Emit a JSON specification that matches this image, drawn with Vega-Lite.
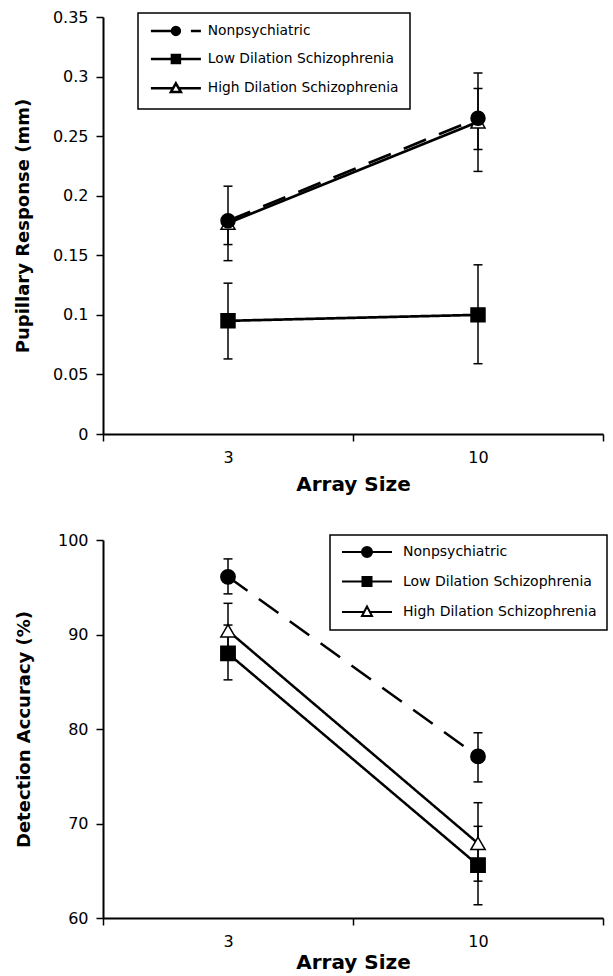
{
  "$schema": "https://vega.github.io/schema/vega-lite/v6.json",
  "background": "white",
  "padding": {"left": 14, "top": 9, "right": 5, "bottom": 5},
  "config": {
    "view": {"stroke": null},
    "font": "DejaVu Sans",
    "axis": {
      "domainColor": "black", "domainWidth": 2, "tickColor": "black", "tickWidth": 1.5, "tickSize": 7,
      "labelFont": "DejaVu Sans", "labelFontSize": 16, "labelColor": "black", "labelPadding": 8,
      "titleFont": "DejaVu Sans", "titleFontWeight": "bold", "titleColor": "black", "grid": false
    }
  },
  "datasets": {
    "pupil": [
      {"group": "High Dilation Schizophrenia", "size": "3", "value": 0.177, "lo": 0.159, "hi": 0.18},
      {"group": "High Dilation Schizophrenia", "size": "10", "value": 0.262, "lo": 0.2388, "hi": 0.29},
      {"group": "Low Dilation Schizophrenia", "size": "3", "value": 0.095, "lo": 0.063, "hi": 0.1266},
      {"group": "Low Dilation Schizophrenia", "size": "10", "value": 0.1, "lo": 0.059, "hi": 0.142},
      {"group": "Nonpsychiatric", "size": "3", "value": 0.179, "lo": 0.1455, "hi": 0.208},
      {"group": "Nonpsychiatric", "size": "10", "value": 0.265, "lo": 0.2204, "hi": 0.303}
    ],
    "acc": [
      {"group": "High Dilation Schizophrenia", "size": "3", "value": 90.4, "lo": 87.5, "hi": 93.3},
      {"group": "High Dilation Schizophrenia", "size": "10", "value": 67.9, "lo": 63.9, "hi": 72.2},
      {"group": "Low Dilation Schizophrenia", "size": "3", "value": 88.0, "lo": 85.2, "hi": 91.0},
      {"group": "Low Dilation Schizophrenia", "size": "10", "value": 65.6, "lo": 61.4, "hi": 69.7},
      {"group": "Nonpsychiatric", "size": "3", "value": 96.1, "lo": 94.3, "hi": 98.0},
      {"group": "Nonpsychiatric", "size": "10", "value": 77.1, "lo": 74.4, "hi": 79.6}
    ]
  },
  "spacing": 38,
  "vconcat": [
    {
      "width": 500, "height": 417,
      "data": {"name": "pupil"},
      "encoding": {
        "x": {"field": "size", "type": "ordinal", "sort": ["3", "10"],
              "scale": {"type": "band", "domain": ["3", "10"], "paddingInner": 0, "paddingOuter": 0},
              "axis": {"title": "Array Size", "labelAngle": 0, "tickBand": "extent", "titleFontSize": 20, "titlePadding": 9}}
      },
      "layer": [
        {"mark": {"type": "rule", "color": "black", "strokeWidth": 1.5},
         "encoding": {
           "y": {"field": "lo", "type": "quantitative", "title": "Pupillary Response (mm)",
                 "scale": {"domain": [0, 0.35], "nice": false, "zero": true},
                 "axis": {"values": [0, 0.05, 0.1, 0.15, 0.2, 0.25, 0.3, 0.35], "format": ".2~f", "titleFontSize": 18, "titlePadding": 20}},
           "y2": {"field": "hi"}}},
        {"mark": {"type": "tick", "color": "black", "thickness": 1.5, "size": 9, "opacity": 1},
         "encoding": {"y": {"field": "lo", "type": "quantitative", "title": "Pupillary Response (mm)"}}},
        {"mark": {"type": "tick", "color": "black", "thickness": 1.5, "size": 9, "opacity": 1},
         "encoding": {"y": {"field": "hi", "type": "quantitative", "title": "Pupillary Response (mm)"}}},
        {"mark": {"type": "line", "color": "black", "strokeWidth": 2.7},
         "encoding": {
           "y": {"field": "value", "type": "quantitative", "title": "Pupillary Response (mm)"},
           "strokeDash": {"field": "group", "type": "nominal",
                          "scale": {"domain": ["Nonpsychiatric", "Low Dilation Schizophrenia", "High Dilation Schizophrenia"], "range": [[24, 14], [1, 0], [1, 0]]},
                          "legend": null}}},
        {"mark": {"type": "point", "filled": true, "stroke": "black", "strokeWidth": 1.5, "opacity": 1, "size": 195},
         "encoding": {
           "y": {"field": "value", "type": "quantitative", "title": "Pupillary Response (mm)"},
           "shape": {"field": "group", "type": "nominal",
                     "scale": {"domain": ["Nonpsychiatric", "Low Dilation Schizophrenia", "High Dilation Schizophrenia"], "range": ["circle", "square", "triangle-up"]},
                     "legend": null},
           "fill": {"field": "group", "type": "nominal",
                    "scale": {"domain": ["Nonpsychiatric", "Low Dilation Schizophrenia", "High Dilation Schizophrenia"], "range": ["black", "black", "white"]},
                    "legend": null}}},
        {"mark": {"type": "point", "filled": true, "stroke": "black", "strokeWidth": 2.5, "opacity": 0},
         "encoding": {
           "y": {"field": "value", "type": "quantitative", "title": "Pupillary Response (mm)"},
           "shape": {"field": "group", "type": "nominal",
                     "scale": {"domain": ["Nonpsychiatric", "Low Dilation Schizophrenia", "High Dilation Schizophrenia"],
                               "range": ["M-1,0L3.2,0M7,0L9,0M4.8,0A0.8,0.8,0,1,1,3.2,0A0.8,0.8,0,1,1,4.8,0Z",
                                         "M-1,0L9,0M3.2,-0.8L4.8,-0.8L4.8,0.8L3.2,0.8Z",
                                         "M-1,0L3.43,0M4.57,0L9,0M4,-1L5,0.75L3,0.75Z"]},
                     "legend": {"title": null, "orient": "none", "legendX": 35, "legendY": -4, "symbolSize": 100, "symbolStrokeWidth": 2.5, "symbolStrokeColor": "black", "symbolOpacity": 1,
                                "labelFont": "DejaVu Sans", "labelFontSize": 13.8, "labelColor": "black", "labelOffset": 45, "labelLimit": 400, "padding": 11, "rowPadding": 9.2,
                                "strokeColor": "black", "fillColor": "white",
                                "encode": {"symbols": {"update": {"stroke": {"value": "black"}, "strokeWidth": {"value": 2.5}, "opacity": {"value": 1}}},
                                           "legend": {"update": {"strokeWidth": {"value": 1.5}}}}}},
           "fill": {"field": "group", "type": "nominal",
                    "scale": {"domain": ["Nonpsychiatric", "Low Dilation Schizophrenia", "High Dilation Schizophrenia"], "range": ["black", "black", "white"]},
                    "legend": {"title": null, "orient": "none", "legendX": 35, "legendY": -4, "symbolSize": 100, "symbolStrokeWidth": 2.5, "symbolStrokeColor": "black", "symbolOpacity": 1,
                               "labelFont": "DejaVu Sans", "labelFontSize": 13.8, "labelColor": "black", "labelOffset": 45, "labelLimit": 400, "padding": 11, "rowPadding": 9.2,
                               "strokeColor": "black", "fillColor": "white",
                               "encode": {"symbols": {"update": {"stroke": {"value": "black"}, "strokeWidth": {"value": 2.5}, "opacity": {"value": 1}}},
                                          "legend": {"update": {"strokeWidth": {"value": 1.5}}}}}}}}
      ],
      "resolve": {"scale": {"shape": "independent", "fill": "independent"}}
    },
    {
      "width": 500, "height": 378,
      "data": {"name": "acc"},
      "encoding": {
        "x": {"field": "size", "type": "ordinal", "sort": ["3", "10"],
              "scale": {"type": "band", "domain": ["3", "10"], "paddingInner": 0, "paddingOuter": 0},
              "axis": {"title": "Array Size", "labelAngle": 0, "tickBand": "extent", "titleFontSize": 20, "titlePadding": 3}}
      },
      "layer": [
        {"mark": {"type": "rule", "color": "black", "strokeWidth": 1.5},
         "encoding": {
           "y": {"field": "lo", "type": "quantitative", "title": "Detection Accuracy (%)",
                 "scale": {"domain": [60, 100], "nice": false, "zero": false},
                 "axis": {"values": [60, 70, 80, 90, 100], "titleFontSize": 18, "titlePadding": 24}},
           "y2": {"field": "hi"}}},
        {"mark": {"type": "tick", "color": "black", "thickness": 1.5, "size": 9, "opacity": 1},
         "encoding": {"y": {"field": "lo", "type": "quantitative", "title": "Detection Accuracy (%)"}}},
        {"mark": {"type": "tick", "color": "black", "thickness": 1.5, "size": 9, "opacity": 1},
         "encoding": {"y": {"field": "hi", "type": "quantitative", "title": "Detection Accuracy (%)"}}},
        {"mark": {"type": "line", "color": "black", "strokeWidth": 2.5},
         "encoding": {
           "y": {"field": "value", "type": "quantitative", "title": "Detection Accuracy (%)"},
           "strokeDash": {"field": "group", "type": "nominal",
                          "scale": {"domain": ["Nonpsychiatric", "Low Dilation Schizophrenia", "High Dilation Schizophrenia"], "range": [[18, 12], [1, 0], [1, 0]]},
                          "legend": null}}},
        {"mark": {"type": "point", "filled": true, "stroke": "black", "strokeWidth": 1.5, "opacity": 1, "size": 205},
         "encoding": {
           "y": {"field": "value", "type": "quantitative", "title": "Detection Accuracy (%)"},
           "shape": {"field": "group", "type": "nominal",
                     "scale": {"domain": ["Nonpsychiatric", "Low Dilation Schizophrenia", "High Dilation Schizophrenia"], "range": ["circle", "square", "triangle-up"]},
                     "legend": null},
           "fill": {"field": "group", "type": "nominal",
                    "scale": {"domain": ["Nonpsychiatric", "Low Dilation Schizophrenia", "High Dilation Schizophrenia"], "range": ["black", "black", "white"]},
                    "legend": null}}},
        {"mark": {"type": "point", "filled": true, "stroke": "black", "strokeWidth": 2, "opacity": 0},
         "encoding": {
           "y": {"field": "value", "type": "quantitative", "title": "Detection Accuracy (%)"},
           "shape": {"field": "group", "type": "nominal",
                     "scale": {"domain": ["Nonpsychiatric", "Low Dilation Schizophrenia", "High Dilation Schizophrenia"],
                               "range": ["M-1,0L9,0M5,0A1,1,0,1,1,3,0A1,1,0,1,1,5,0Z",
                                         "M-1,0L9,0M3.1,-0.9L4.9,-0.9L4.9,0.9L3.1,0.9Z",
                                         "M-1,0L3.42,0M4.58,0L9,0M4,-1.1L5,0.8L3,0.8Z"]},
                     "legend": {"title": null, "orient": "none", "legendX": 227, "legendY": -5, "symbolSize": 100, "symbolStrokeWidth": 2, "symbolStrokeColor": "black", "symbolOpacity": 1,
                                "labelFont": "DejaVu Sans", "labelFontSize": 14, "labelColor": "black", "labelOffset": 49, "labelLimit": 400, "padding": 10, "rowPadding": 11.5,
                                "strokeColor": "black", "fillColor": "white",
                                "encode": {"symbols": {"update": {"stroke": {"value": "black"}, "strokeWidth": {"value": 2}, "opacity": {"value": 1}}},
                                           "legend": {"update": {"strokeWidth": {"value": 1.5}}}}}},
           "fill": {"field": "group", "type": "nominal",
                    "scale": {"domain": ["Nonpsychiatric", "Low Dilation Schizophrenia", "High Dilation Schizophrenia"], "range": ["black", "black", "white"]},
                    "legend": {"title": null, "orient": "none", "legendX": 227, "legendY": -5, "symbolSize": 100, "symbolStrokeWidth": 2, "symbolStrokeColor": "black", "symbolOpacity": 1,
                               "labelFont": "DejaVu Sans", "labelFontSize": 14, "labelColor": "black", "labelOffset": 49, "labelLimit": 400, "padding": 10, "rowPadding": 11.5,
                               "strokeColor": "black", "fillColor": "white",
                               "encode": {"symbols": {"update": {"stroke": {"value": "black"}, "strokeWidth": {"value": 2}, "opacity": {"value": 1}}},
                                          "legend": {"update": {"strokeWidth": {"value": 1.5}}}}}}}}
      ],
      "resolve": {"scale": {"shape": "independent", "fill": "independent"}}
    }
  ]
}
